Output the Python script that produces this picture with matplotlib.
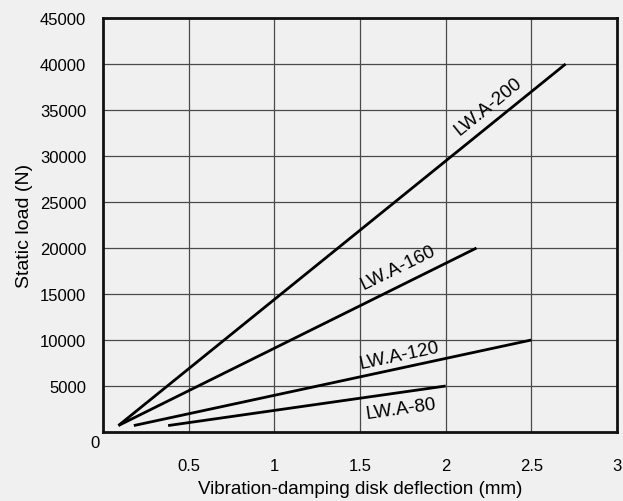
import matplotlib.pyplot as plt

# deflection (mm) / static load (N) for each model: start and end points
models = ['LW.A-200', 'LW.A-160', 'LW.A-120', 'LW.A-80']
defl_start = [0.09, 0.09, 0.18, 0.38]
defl_end = [2.70, 2.18, 2.50, 2.00]
load_start = [700, 700, 700, 700]
load_end = [40000, 20000, 10000, 5000]

# label positions along the lines
label_x = [2.25, 1.72, 1.73, 1.74]
label_y = [35500, 17900, 8300, 2500]
label_rot = [39, 26, 12, 8]

xticks = [0.5, 1, 1.5, 2, 2.5, 3]
yticks = [5000, 10000, 15000, 20000, 25000, 30000, 35000, 40000, 45000]

plt.rcParams['font.family'] = ['Liberation Sans', 'DejaVu Sans']

bg = '#f0f0f0'
fig = plt.figure(figsize=(6.23, 5.02), dpi=100, facecolor=bg)
ax = fig.add_axes([103 / 623, 1 - 433 / 502, 514 / 623, 414 / 502], facecolor=bg)

for x0, x1, y0, y1 in zip(defl_start, defl_end, load_start, load_end):
    ax.plot([x0, x1], [y0, y1], color='black', linewidth=2, solid_capstyle='butt', zorder=3)

for name, lx, ly, r in zip(models, label_x, label_y, label_rot):
    ax.text(lx, ly, name, rotation=r, ha='center', va='center', fontsize=13.5,
            rotation_mode='anchor', zorder=4)

ax.set_xlim(0, 3)
ax.set_ylim(0, 45000)
ax.set_xticks(xticks)
ax.set_xticklabels(['0.5', '1', '1.5', '2', '2.5', '3'])
ax.set_yticks(yticks)
ax.set_yticklabels([str(v) for v in yticks])
ax.tick_params(axis='both', length=0, labelsize=12)
ax.tick_params(axis='x', pad=19)
ax.tick_params(axis='y', pad=12)
ax.grid(True, color='#4a4a4a', linewidth=0.9)
ax.set_axisbelow(True)
for s in ax.spines.values():
    s.set_linewidth(2)
    s.set_color('#111111')

ax.text(-0.02, -1100, '0', ha='right', va='center', fontsize=12)

ax.set_xlabel('Vibration-damping disk deflection (mm)', fontsize=13.5, labelpad=5)
ax.set_ylabel('Static load (N)', fontsize=14, labelpad=5)

fig.savefig('out.png', dpi=100, facecolor=bg)
